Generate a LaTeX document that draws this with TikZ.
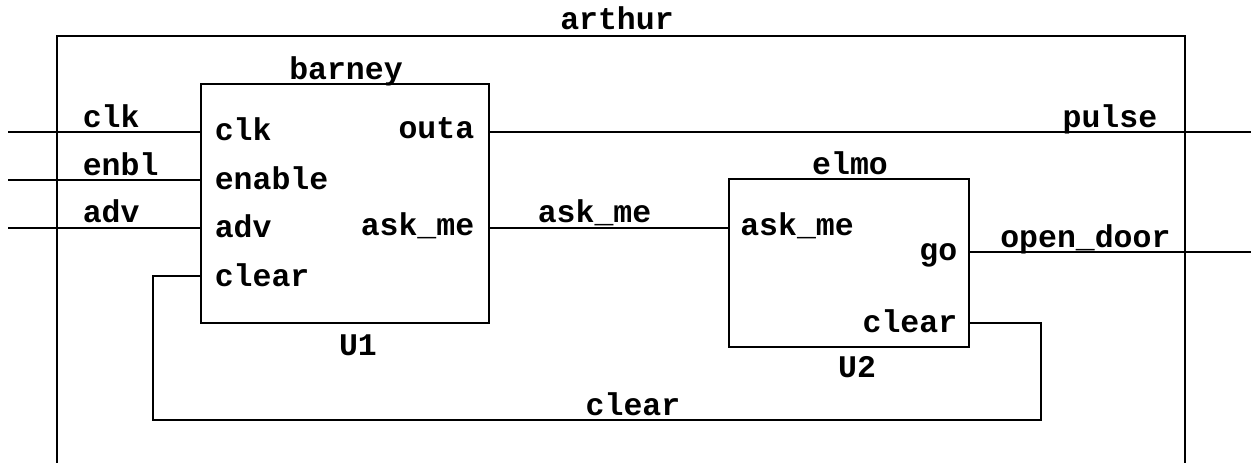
\documentclass[tikz,border=0pt]{standalone}
\usepackage{fontspec}
\setmainfont{Liberation Mono}
\begin{document}
\begin{tikzpicture}[x=1pt,y=-1pt,line width=1.6pt,
  lbl/.style={inner sep=0pt,font=\fontsize{31.5}{31.5}\selectfont\bfseries},
  wire/.style={draw,line width=1.6pt}]
\useasboundingbox (0,0) rectangle (1251,463);
% blocks
\node[draw,inner sep=0pt,minimum width=288.3pt,minimum height=239pt] (barney) at (344.85,203.5) {};
\node[draw,inner sep=0pt,minimum width=240pt,minimum height=168pt] (elmo) at (849,263) {};
\coordinate (artl) at (57,470);
\coordinate (artr) at (1185,470);
\draw (artl) |- (1185,36) -- (artr);
% titles
\node[lbl,anchor=base] (tarthur) at (617,30) {arthur};
\node[lbl,anchor=base] (tbarney) at (346,79) {barney};
\node[lbl,anchor=base] (telmo) at (850,174) {elmo};
\node[lbl,anchor=base] (tu1) at (358,355) {U1};
\node[lbl,anchor=base] (tu2) at (857,377) {U2};
% barney ports
\node[lbl,anchor=base west] (pclk) at (214,140) {clk};
\node[lbl,anchor=base west] (pen) at (214,189) {enable};
\node[lbl,anchor=base west] (padv) at (214,237) {adv};
\node[lbl,anchor=base west] (pclr) at (214,286) {clear};
\node[lbl,anchor=base east] (pouta) at (475,138) {outa};
\node[lbl,anchor=base east] (pask) at (475,235) {ask\_me};
% elmo ports
\node[lbl,anchor=base west] (eask) at (739.5,235) {ask\_me};
\node[lbl,anchor=base east] (ego) at (958,260) {go};
\node[lbl,anchor=base east] (eclr) at (958,332) {clear};
% net labels
\node[lbl,anchor=base west] (nclk) at (82,127) {clk};
\node[lbl,anchor=base west] (nen) at (82,175) {enbl};
\node[lbl,anchor=base west] (nadv) at (82,222) {adv};
\node[lbl,anchor=base west] (nask) at (537,222) {ask\_me};
\node[lbl,anchor=base east] (npulse) at (1158,127) {pulse};
\node[lbl,anchor=base west] (nopen) at (999.5,247) {open\_door};
\node[lbl,anchor=base] (nclr) at (633,415) {clear};
% port coordinates
\coordinate (b-clk) at (barney.west |- 0,132);
\coordinate (b-en) at (barney.west |- 0,180);
\coordinate (b-adv) at (barney.west |- 0,228);
\coordinate (b-clr) at (barney.west |- 0,276);
\coordinate (b-outa) at (barney.east |- 0,132);
\coordinate (b-ask) at (barney.east |- 0,228);
\coordinate (e-ask) at (elmo.west |- 0,228);
\coordinate (e-go) at (elmo.east |- 0,252);
\coordinate (e-clr) at (elmo.east |- 0,323);
\coordinate (i-clk) at (8,132);
\coordinate (i-en) at (8,180);
\coordinate (i-adv) at (8,228);
\coordinate (o-pulse) at (1251,132);
\coordinate (o-go) at (1251,252);
\coordinate (c-r) at (1041,420);
\coordinate (c-l) at (152.7,420);
% wires
\draw[wire] (i-clk) -- (b-clk);
\draw[wire] (i-en) -- (b-en);
\draw[wire] (i-adv) -- (b-adv);
\draw[wire] (b-outa) -- (o-pulse);
\draw[wire] (b-ask) -- (e-ask);
\draw[wire] (e-go) -- (o-go);
\draw[wire] (e-clr) -| (c-r) -- (c-l) |- (b-clr);
\end{tikzpicture}
\end{document}
